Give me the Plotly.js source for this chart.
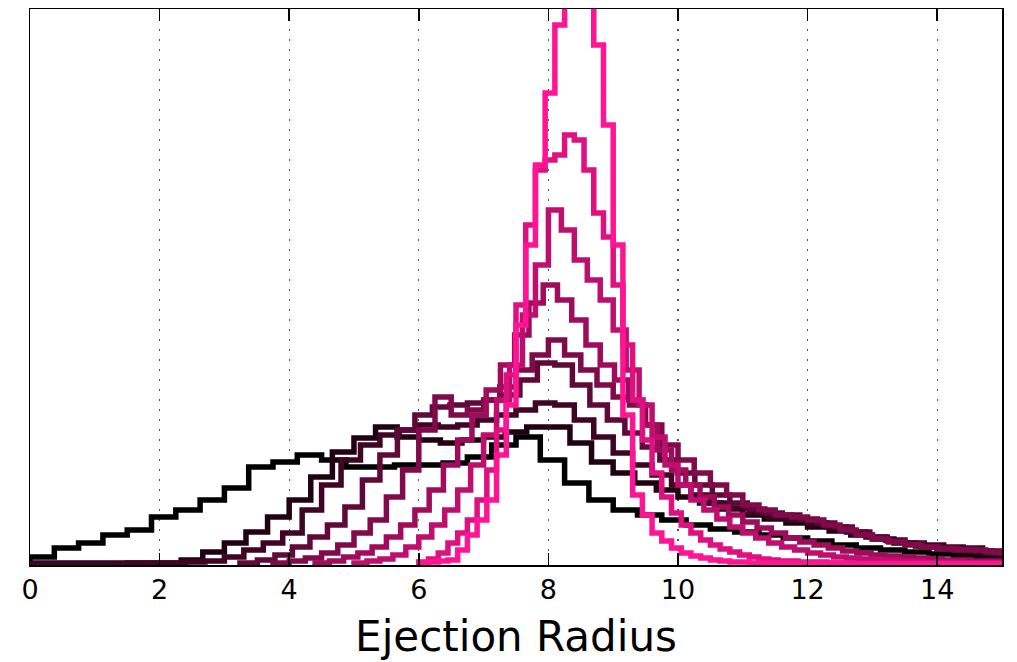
<!DOCTYPE html>
<html>
<head>
<meta charset="utf-8">
<script src="https://cdn.plot.ly/plotly-3.0.1.min.js"></script>
<style>html,body{margin:0;padding:0;background:#fff;}#chart{width:1017px;height:662px;}</style>
</head>
<body>
<div id="chart"></div>
<script>
// ---- data (histogram counts per series, left bin edge start and bin width) ----
const seriesColors = ['#000000','#200212','#400525','#600837','#800a4a','#9f0c5c','#bf0f6e','#df1181','#ff1493'];
const binStart = [0, 0, 0, 3.24, 3.75, 4.4, 5.0, 6.0, 6.0];
const binWidth = [0.375, 0.3333, 0.3, 0.27, 0.25, 0.22, 0.2, 0.15, 0.15];

const counts0 = [8,17,22,30,35,48,55,65,77,98,103,110,105,98,98,100,100,102,108,120,128,105,82,65,55,50,45,40,36,33,30,27,24,20,17,15,13,11,9,8,7];
const counts1 = [2,2,2,2,2,2,2,5,13,22,33,48,65,88,113,127,138,128,125,122,125,128,133,138,138,122,103,92,82,75,68,62,56,50,46,42,38,34,30,26,22,19,16,13,11,10];
const counts2 = [1,1,1,1,1,2,2,2,3,4,8,15,22,32,55,80,105,120,130,135,140,138,140,145,150,155,162,160,145,128,112,100,90,80,70,62,57,52,48,45,42,38,33,28,25,22,20,18,17,14,13];
const counts3 = [2,5,10,18,28,40,58,85,110,135,150,158,160,162,165,170,185,202,200,180,160,145,132,118,105,92,80,70,62,56,52,50,46,42,38,33,28,24,21,18,17,16,14,12];
const counts4 = [2,4,7,12,20,32,45,68,95,135,168,150,155,165,178,195,210,225,210,195,180,168,160,140,120,105,92,80,70,60,55,50,48,45,40,35,30,26,23,20,18,16,15,15,13,12];
const counts5 = [2,4,8,12,18,28,40,55,75,100,125,150,175,200,230,262,280,265,245,220,200,185,165,140,115,95,80,68,58,50,43,37,32,27,23,20,17,14,12,10,9,8,7,6,5,5,4,4,4,3];
const counts6 = [2,4,6,10,18,28,40,55,75,100,130,165,200,250,300,355,335,305,285,265,235,195,160,128,100,80,65,55,46,38,32,27,22,18,15,12,10,8,7,6,5,5,4,4,3,3,3,2,2,2,2];
const counts7 = [3,6,12,22,32,45,65,95,135,190,260,340,395,405,410,430,425,395,352,328,280,220,165,125,92,68,52,40,32,25,20,16,13,10,8,6,5,4,4,3,3,3,2,2,2,2,2,2,2,2,2,2,2,2,2,2,2,2,2,2,2];
const counts8 = [2,3,4,5,15,30,45,65,110,160,240,320,400,472,540,580,585,575,520,440,320,150,70,50,32,24,17,12,9,7,5,4,3,3,2,2,2,2,2,2,2,2,2,2,1,1,1,1,1,1,1,1,1,1,1,1,1,1,1,1,1];
const allCounts = [counts0,counts1,counts2,counts3,counts4,counts5,counts6,counts7,counts8];

const xTicks = [0,2,4,6,8,10,12,14];
const xTitle = 'Ejection Radius';

// ---- build step-outline traces (histtype="step") ----
const traces = allCounts.map((c, i) => {
  const xs = [binStart[i]], ys = [0];
  for (let k = 0; k < c.length; k++) { xs.push(binStart[i] + k * binWidth[i]); ys.push(c[k]); }
  xs.push(binStart[i] + c.length * binWidth[i]); ys.push(0);
  return {x: xs, y: ys, type: 'scatter', mode: 'lines',
          line: {shape: 'hv', color: seriesColors[i], width: 5.5},
          hoverinfo: 'skip', showlegend: false};
});

const layout = {
  width: 1017, height: 662,
  margin: {l: 30, r: 15, t: 9, b: 97, pad: 0},
  paper_bgcolor: '#ffffff', plot_bgcolor: '#ffffff',
  font: {family: 'DejaVu Sans', color: '#000'},
  xaxis: {
    range: [0, 15], tickvals: xTicks, ticktext: xTicks.map(String),
    ticks: 'inside', ticklen: 12, tickwidth: 1.5, tickcolor: '#000',
    showline: true, linecolor: '#000', linewidth: 1.5, mirror: 'ticks',
    showgrid: true, gridcolor: '#555', gridwidth: 1.2, griddash: '2px,8px',
    zeroline: false, tickfont: {size: 27, family: 'DejaVu Sans', color: '#000'},
    title: {text: xTitle, font: {size: 42, family: 'DejaVu Sans', color: '#000'}, standoff: 17},
    automargin: false
  },
  yaxis: {
    range: [0, 556], showticklabels: false, ticks: '', showgrid: false, zeroline: false,
    showline: true, linecolor: '#000', linewidth: 1.5, mirror: true, automargin: false
  }
};
Plotly.newPlot('chart', traces, layout, {staticPlot: true, displayModeBar: false});
</script>
</body>
</html>
